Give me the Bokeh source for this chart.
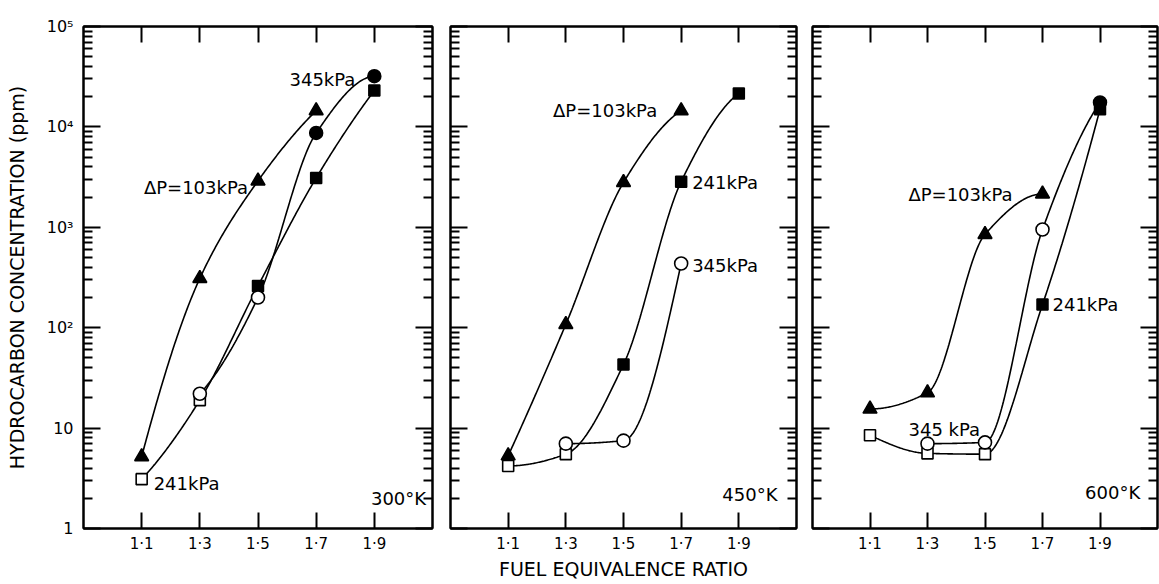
import numpy as np
from bokeh.plotting import figure
from bokeh.models import FixedTicker, LogAxis, LinearAxis, Label
from bokeh.layouts import row
from bokeh.embed import file_html
from bokeh.resources import INLINE
from bokeh.core.properties import value

# ---------------- data ----------------
phi_ticks = [1.1, 1.3, 1.5, 1.7, 1.9]
phi_tick_labels = ["1·1", "1·3", "1·5", "1·7", "1·9"]
hc_ticks = [1, 10, 100, 1000, 10000, 100000]
hc_tick_labels = ["1", "10", "10²", "10³", "10⁴", "10⁵"]

temperatures = ["300°K", "450°K", "600°K"]
series_labels = ["ΔP=103kPa", "241kPa", "345kPa"]

# 300 K
phi_300_103 = [1.1, 1.3, 1.5, 1.7]
hc_300_103 = [5.2, 310, 2900, 14500]
phi_300_241 = [1.1, 1.3, 1.5, 1.7, 1.9]
hc_300_241 = [3.1, 19, 260, 3100, 23000]
hollow_300_241 = [True, True, False, False, False]
phi_300_345 = [1.3, 1.5, 1.7, 1.9]
hc_300_345 = [22, 200, 8700, 32000]
hollow_300_345 = [True, True, False, False]

# 450 K
phi_450_103 = [1.1, 1.3, 1.5, 1.7]
hc_450_103 = [5.3, 108, 2800, 14500]
phi_450_241 = [1.1, 1.3, 1.5, 1.7, 1.9]
hc_450_241 = [4.2, 5.5, 43, 2850, 21500]
hollow_450_241 = [True, True, False, False, False]
phi_450_345 = [1.3, 1.5, 1.7]
hc_450_345 = [7.0, 7.5, 436]
hollow_450_345 = [True, True, True]

# 600 K
phi_600_103 = [1.1, 1.3, 1.5, 1.7]
hc_600_103 = [15.5, 22.5, 850, 2150]
phi_600_241 = [1.1, 1.3, 1.5, 1.7, 1.9]
hc_600_241 = [8.5, 5.6, 5.5, 170, 15000]
hollow_600_241 = [True, True, True, False, False]
phi_600_345 = [1.3, 1.5, 1.7, 1.9]
hc_600_345 = [7.0, 7.2, 950, 17500]
hollow_600_345 = [True, True, True, False]

FONT = "DejaVu Sans"


def smooth(xs, ys, n=60):
    """Shape-preserving (PCHIP) curve through the points in (x, log10 y)."""
    x = np.array(xs, dtype=float)
    y = np.log10(np.array(ys, dtype=float))
    h = np.diff(x)
    d = np.diff(y) / h
    m = np.zeros_like(y)
    for k in range(1, len(x) - 1):
        if d[k - 1] * d[k] > 0:
            w1 = 2 * h[k] + h[k - 1]
            w2 = h[k] + 2 * h[k - 1]
            m[k] = (w1 + w2) / (w1 / d[k - 1] + w2 / d[k])

    def end(h0, h1, d0, d1):
        v = ((2 * h0 + h1) * d0 - h0 * d1) / (h0 + h1)
        if np.sign(v) != np.sign(d0):
            return 0.0
        if np.sign(d0) != np.sign(d1) and abs(v) > abs(3 * d0):
            return 3 * d0
        return v

    if len(x) > 2:
        m[0] = end(h[0], h[1], d[0], d[1])
        m[-1] = end(h[-1], h[-2], d[-1], d[-2])
    else:
        m[:] = d[0]
    ox, oy = [], []
    for k in range(len(x) - 1):
        t = np.linspace(0, 1, n)
        h00 = 2 * t**3 - 3 * t**2 + 1
        h10 = t**3 - 2 * t**2 + t
        h01 = -2 * t**3 + 3 * t**2
        h11 = t**3 - t**2
        ox.append(x[k] + t * h[k])
        oy.append(h00 * y[k] + h10 * h[k] * m[k] + h01 * y[k + 1] + h11 * h[k] * m[k + 1])
    return np.concatenate(ox), 10 ** np.concatenate(oy)


minor = [m * 10 ** k for k in range(5) for m in range(2, 10)]


def make_panel(width, bl, br, show_y_labels=False, x_label=None):
    p = figure(width=width, height=584, x_range=(0.9, 2.1), y_range=(1, 1e5),
               y_axis_type="log", output_backend="svg", toolbar_location=None,
               min_border_left=bl, min_border_right=br, min_border_top=26,
               min_border_bottom=56, background_fill_color="white",
               border_fill_color="white", outline_line_color="black",
               outline_line_width=2)
    p.xgrid.visible = False
    p.ygrid.visible = False

    yt = FixedTicker(ticks=hc_ticks, minor_ticks=minor)
    xt = FixedTicker(ticks=phi_ticks, minor_ticks=[])

    def style_y(ax, labels):
        ax.ticker = yt
        ax.axis_line_width = 2
        ax.major_tick_in = 17
        ax.major_tick_out = 0
        ax.minor_tick_in = 9
        ax.minor_tick_out = 0
        ax.major_tick_line_width = 2
        ax.minor_tick_line_width = 2
        if labels:
            ax.major_label_overrides = {float(v): s for v, s in zip(hc_ticks, hc_tick_labels)}
            ax.major_label_text_font = FONT
            ax.major_label_text_font_size = "16px"
            ax.major_label_text_color = "black"
            ax.major_label_standoff = 10
        else:
            ax.major_label_text_color = None
            ax.major_label_text_font_size = "1px"
            ax.major_label_standoff = 0

    def style_x(ax, labels):
        ax.ticker = xt
        ax.axis_line_width = 2
        ax.major_tick_in = 16
        ax.major_tick_out = 0
        ax.minor_tick_in = 0
        ax.minor_tick_out = 0
        ax.major_tick_line_width = 2
        if labels:
            ax.major_label_overrides = {v: s for v, s in zip(phi_ticks, phi_tick_labels)}
            ax.major_label_text_font = FONT
            ax.major_label_text_font_size = "15px"
            ax.major_label_text_color = "black"
            ax.major_label_standoff = 6
        else:
            ax.major_label_text_color = None
            ax.major_label_text_font_size = "1px"
            ax.major_label_standoff = 0

    left_ax = p.yaxis[0]
    bottom_ax = p.xaxis[0]
    style_y(left_ax, show_y_labels)
    style_x(bottom_ax, True)
    ra = LogAxis()
    style_y(ra, False)
    p.add_layout(ra, "right")
    ta = LinearAxis()
    style_x(ta, False)
    p.add_layout(ta, "above")

    if show_y_labels:
        left_ax.axis_label = "HYDROCARBON CONCENTRATION (ppm)"
        left_ax.axis_label_text_font = FONT
        left_ax.axis_label_text_font_size = "19px"
        left_ax.axis_label_text_color = "black"
        left_ax.axis_label_text_font_style = "normal"
        left_ax.axis_label_standoff = 16
    if x_label:
        bottom_ax.axis_label = x_label
        bottom_ax.axis_label_text_font = FONT
        bottom_ax.axis_label_text_font_size = "19px"
        bottom_ax.axis_label_text_color = "black"
        bottom_ax.axis_label_text_font_style = "normal"
        bottom_ax.axis_label_standoff = 2
    return p


def draw_series(p, xs, ys, marker, hollow=None, size=12):
    cx, cy = smooth(xs, ys)
    p.line(cx, cy, line_color="black", line_width=1.6)
    if hollow is None:
        hollow = [False] * len(xs)
    fx = [x for x, h in zip(xs, hollow) if not h]
    fy = [y for y, h in zip(ys, hollow) if not h]
    hx = [x for x, h in zip(xs, hollow) if h]
    hy = [y for y, h in zip(ys, hollow) if h]
    if fx:
        p.scatter(fx, fy, marker=marker, size=size, fill_color="black",
                  line_color="black", line_width=1.5)
    if hx:
        p.scatter(hx, hy, marker=marker, size=size, fill_color="white",
                  line_color="black", line_width=1.6)


def label(p, x, y, text, dx, dy, align):
    p.text([x], [y], text=[text], x_offset=dx, y_offset=dy, text_align=align,
           text_baseline="middle", text_font=value(FONT), text_font_size="18px",
           text_color="black")


def temp_label(p, x, y, text):
    p.add_layout(Label(x=x, y=y, text=text, text_align="right", text_baseline="middle",
                       text_font=FONT, text_font_size="18px", text_color="black"))


# ---- 300 K
p1 = make_panel(441, 83, 9, show_y_labels=True)
draw_series(p1, phi_300_241, hc_300_241, "square", hollow_300_241, size=11)
draw_series(p1, phi_300_345, hc_300_345, "circle", hollow_300_345, size=13)
draw_series(p1, phi_300_103, hc_300_103, "triangle", None, size=14)
label(p1, phi_300_345[-1], hc_300_345[-1], series_labels[2], -19, 3, "right")
label(p1, phi_300_103[2], hc_300_103[2], series_labels[0], -10, 7, "right")
label(p1, phi_300_241[0], hc_300_241[0], series_labels[1], 12, 4, "left")
temp_label(p1, 2.078, 2.0, temperatures[0])

# ---- 450 K
p2 = make_panel(363, 9, 8, x_label="FUEL EQUIVALENCE RATIO")
draw_series(p2, phi_450_241, hc_450_241, "square", hollow_450_241, size=11)
draw_series(p2, phi_450_345, hc_450_345, "circle", hollow_450_345, size=13)
draw_series(p2, phi_450_103, hc_450_103, "triangle", None, size=14)
label(p2, phi_450_103[-1], hc_450_103[-1], series_labels[0], -24, 0, "right")
label(p2, phi_450_241[3], hc_450_241[3], series_labels[1], 11, 1, "left")
label(p2, phi_450_345[-1], hc_450_345[-1], series_labels[2], 11, 2, "left")
temp_label(p2, 2.034, 2.2, temperatures[1])

# ---- 600 K
p3 = make_panel(355, 8, 2)
draw_series(p3, phi_600_241, hc_600_241, "square", hollow_600_241, size=11)
draw_series(p3, phi_600_345, hc_600_345, "circle", hollow_600_345, size=13)
draw_series(p3, phi_600_103, hc_600_103, "triangle", None, size=14)
label(p3, phi_600_103[-1], hc_600_103[-1], series_labels[0], -30, 1, "right")
label(p3, phi_600_241[3], hc_600_241[3], series_labels[1], 10, 0, "left")
label(p3, phi_600_345[0], hc_600_345[0], "345 kPa", -19, -14, "left")
temp_label(p3, 2.04, 2.3, temperatures[2])

layout = row(p1, p2, p3)
open("out.html", "w").write(file_html(layout, INLINE))
